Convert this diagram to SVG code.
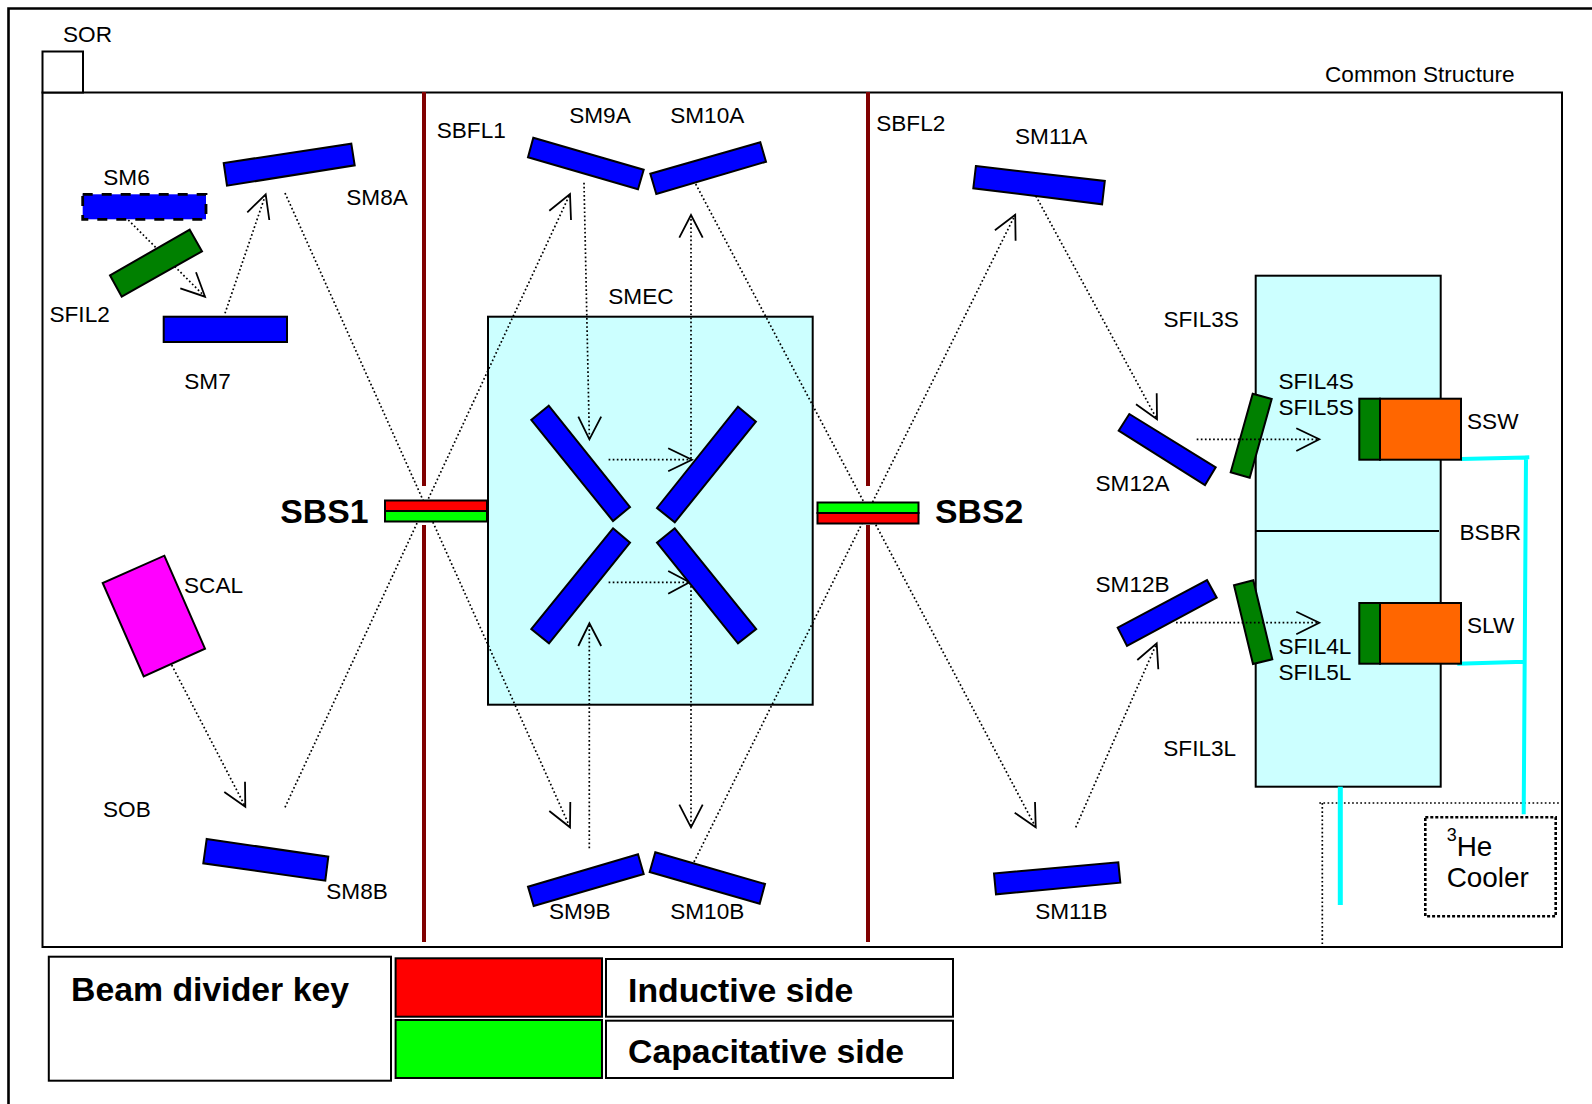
<svg xmlns="http://www.w3.org/2000/svg" width="1592" height="1104" viewBox="0 0 1592 1104">
<style>
text{font-family:"Liberation Sans",Arial,sans-serif;font-size:22.6px;fill:#000}
.b{font-weight:bold;font-size:33.8px}
.n{stroke:#000;stroke-width:2;stroke-linejoin:miter}
.m{fill:#00f}.f{fill:#008000}.o{fill:#f60}.c{fill:#cff}.w{fill:#fff}.r{fill:#f00}.g{fill:#0f0}.p{fill:#f0f}
.d{fill:none;stroke:#000;stroke-width:1.7;stroke-dasharray:1.7 2.4}
.h{fill:none;stroke:#000;stroke-width:1.8}
.k{fill:none;stroke:#800000;stroke-width:4}
.y{fill:none;stroke:#0ff;stroke-width:4}
</style>
<rect width="1592" height="1104" fill="#fff"/>
<path id="frame" d="M8.5 1104V8.5H1592" fill="none" stroke="#000" stroke-width="2.6"/>
<g id="common-structure">
<rect class="n w" x="42.5" y="92.5" width="1519.5" height="854.5" stroke-width="1.8"/>
<text x="1325" y="82">Common Structure</text>
</g>
<g id="SOR"><rect class="n w" x="42.5" y="51.5" width="40.5" height="41"/><text x="63" y="41.5">SOR</text></g>
<g id="SBFL1"><path class="k" d="M424 92V486M424 525V942"/><text x="436.7" y="138.3">SBFL1</text></g>
<g id="SBFL2"><path class="k" d="M868 92V486M868 525V942"/><text x="876.2" y="130.7">SBFL2</text></g>
<g id="SMEC"><rect class="n c" x="488" y="316.7" width="324.7" height="388"/><text x="608.3" y="304">SMEC</text></g>
<g id="BSBR"><rect class="n c" x="1255.7" y="275.7" width="185" height="511"/><path class="n" d="M1255.7 531H1439" fill="none"/><text x="1459.5" y="540">BSBR</text><text x="1163.5" y="326.7">SFIL3S</text><text x="1163.3" y="755.7">SFIL3L</text></g>
<g id="SFIL45S"><polygon class="n f" points="1252.7,393.7 1271.7,399 1249.7,477.7 1230.7,472.3"/><text x="1278.5" y="389">SFIL4S</text><text x="1278.5" y="415">SFIL5S</text></g>
<g id="SFIL45L"><polygon class="n f" points="1253.3,580.3 1272.3,659.3 1253,664 1234,585.3"/><text x="1278.5" y="654">SFIL4L</text><text x="1278.5" y="679.7">SFIL5L</text></g>
<g id="SM12A"><polygon class="n m" points="1129.3,414 1215.7,467.3 1205,485 1118.7,430.7"/><text x="1095.5" y="490.7">SM12A</text></g>
<g id="SM12B"><polygon class="n m" points="1207,580 1216.7,597.7 1127,646 1117.7,627.7"/><text x="1095.5" y="592.3">SM12B</text></g>
<g id="connectors">
<path class="d" d="M128.3 220L205 296.7"/><path class="h" d="M196 272.3L205 296.7L180.3 288.3"/>
<path class="d" d="M225 313.3L265.7 194.3"/><path class="h" d="M247.3 212.3L265.7 194.3L269.3 220"/>
<path class="d" d="M285 193L570 827.3"/><path class="h" d="M549.3 811L570 827.3L570.3 802"/>
<path class="d" d="M285 807.3L570 194"/><path class="h" d="M549.3 210.7L570 194L571 220"/>
<path class="d" d="M171.7 665L245.3 806.7"/><path class="h" d="M224.3 792L245.3 806.7L245 781.7"/>
<path class="d" d="M584 182.7L589.4 439.3"/><path class="h" d="M578.3 416.7L589.4 439.3L601.2 416.7"/>
<path class="d" d="M589.3 848.3V623.3"/><path class="h" d="M578.3 646L589.4 623.3L601.2 646"/>
<path class="d" d="M691 215V460M691 582V827.3"/><path class="h" d="M679.3 237.7L691 215L702.7 237.7M679.3 804.7L691 827.3L702.7 804.7"/>
<path class="d" d="M608.6 459.7H691.9M608.6 582.3H689.5"/><path class="h" d="M668.2 448.3L691.9 459.7L668.2 471.3M668.2 571L689.5 582.3L668.2 593.7"/>
<path class="d" d="M695.7 184L1035.7 827.3"/><path class="h" d="M1014.7 812.7L1035.7 827.3L1035 802"/>
<path class="d" d="M694 862L1015.2 214.7"/><path class="h" d="M994.9 230.3L1015.2 214.7L1015.6 240.7"/>
<path class="d" d="M1035.9 196L1157 419.3"/><path class="h" d="M1136 404.3L1157 419.3L1156.7 393.3"/>
<path class="d" d="M1075.7 827.3L1156.7 643.3"/><path class="h" d="M1137.3 660L1156.7 643.3L1158.3 669.3"/>
<path class="d" d="M1196.7 439.3H1319.3M1176 622.7H1319.3"/><path class="h" d="M1296.3 428.3L1319.3 439.3L1296.3 451M1296.3 611.7L1319.3 622.7L1296.3 634.3"/>
<path class="d" d="M1319.3 803H1564M1322.3 803V944"/>
<path class="y" d="M1461 459L1529.3 457.3M1526 457.3L1523.7 814.3M1457.3 663.7L1524.3 661.7"/>
<path class="y" style="stroke-width:5" d="M1340.3 786.7V905"/>
</g>
<g id="SM6"><rect class="m" x="82.7" y="194.3" width="123.3" height="25"/><rect x="82.7" y="194.3" width="123.3" height="25" fill="none" stroke="#000" stroke-width="2.8" stroke-dasharray="10 9"/><text x="103.3" y="185">SM6</text></g>
<g id="SFIL2"><polygon class="n f" points="189.7,229.7 202,251.3 121.7,296.7 110,275.3"/><text x="49.5" y="321.7">SFIL2</text></g>
<g id="SM7"><rect class="n m" x="163.7" y="316.7" width="123.3" height="25.3"/><text x="184.3" y="388.8">SM7</text></g>
<g id="SM8A"><polygon class="n m" points="351.3,143.7 354.7,165.3 227,185.7 223.7,163"/><text x="346.3" y="205">SM8A</text></g>
<g id="SM8B"><polygon class="n m" points="206.7,839 328.3,856.7 325.3,880.7 203.3,863.3"/><text x="326.3" y="898.8">SM8B</text></g>
<g id="SCAL"><polygon class="n p" points="164.3,555.7 205,648.7 143.7,676.3 102.7,583"/><text x="184" y="592.7">SCAL</text></g>
<g id="SOB"><text x="103" y="816.7">SOB</text></g>
<g id="SM9A"><polygon class="n m" points="533.3,137.7 643.7,169.7 638,189.3 528,157.3"/><text x="569.2" y="122.7">SM9A</text></g>
<g id="SM10A"><polygon class="n m" points="760.3,142.3 766,161.7 656.3,194 650.3,173.7"/><text x="670.2" y="122.7">SM10A</text></g>
<g id="SM9B"><polygon class="n m" points="638,854.3 643.7,874 533.7,906 528,886.7"/><text x="549" y="918.8">SM9B</text></g>
<g id="SM10B"><polygon class="n m" points="655.3,852.3 765,884 759.7,903.7 649.7,872"/><text x="670.2" y="918.8">SM10B</text></g>
<g id="SMEC-mirrors">
<polygon class="n m" points="548.7,405.7 531.3,420 613,521 630,507"/>
<polygon class="n m" points="738,406.7 755.9,421.7 674.8,522.3 657,508"/>
<polygon class="n m" points="613,528.3 630,542.7 549,643.3 531.3,629"/>
<polygon class="n m" points="674.8,528.3 657,542.7 738,643.3 756.2,629"/>
</g>
<g id="SM11A"><polygon class="n m" points="975.9,166 1104.8,181 1102.1,204.3 973.3,188.3"/><text x="1015" y="144">SM11A</text></g>
<g id="SM11B"><polygon class="n m" points="994,873.5 1118.3,862.3 1120.3,882.7 996,894.3"/><text x="1035.2" y="918.7">SM11B</text></g>
<g id="SBS1"><rect class="n r" x="385" y="500.5" width="102" height="10.5"/><rect class="n g" x="385" y="511" width="102" height="10.5"/><text class="b" x="280.2" y="523.2">SBS1</text></g>
<g id="SBS2"><rect class="n g" x="817.5" y="502.5" width="101" height="10.5"/><rect class="n r" x="817.5" y="513" width="101" height="10.5"/><text class="b" x="935" y="523.2">SBS2</text></g>
<g id="SSW"><rect class="n o" x="1380" y="398.7" width="81" height="61"/><rect class="n f" x="1359.3" y="398.7" width="20.7" height="61"/><text x="1467" y="429.3">SSW</text></g>
<g id="SLW"><rect class="n o" x="1380" y="603" width="81" height="60.7"/><rect class="n f" x="1359.3" y="603" width="20.7" height="60.7"/><text x="1467" y="633.3">SLW</text></g>
<g id="cooler"><rect x="1425.3" y="817.3" width="130.4" height="99" fill="none" stroke="#000" stroke-width="2.6" stroke-dasharray="3 2"/>
<text x="1446.7" y="855.5" style="font-size:27.9px"><tspan dy="-15" style="font-size:18px">3</tspan><tspan dy="15">He</tspan></text>
<text x="1446.7" y="887" style="font-size:27.9px">Cooler</text></g>
<g id="legend">
<rect class="n w" x="48.8" y="956.7" width="342.2" height="124"/><text class="b" x="71" y="1001">Beam divider key</text>
<rect class="n r" x="395.6" y="958.3" width="206.4" height="58.4"/>
<rect class="n g" x="395.6" y="1020" width="206.4" height="58"/>
<rect class="n w" x="606" y="959" width="347" height="57.7"/><text class="b" x="628" y="1001.7">Inductive side</text>
<rect class="n w" x="606" y="1020.7" width="347" height="57.3"/><text class="b" x="628" y="1062.7">Capacitative side</text>
</g>
</svg>
